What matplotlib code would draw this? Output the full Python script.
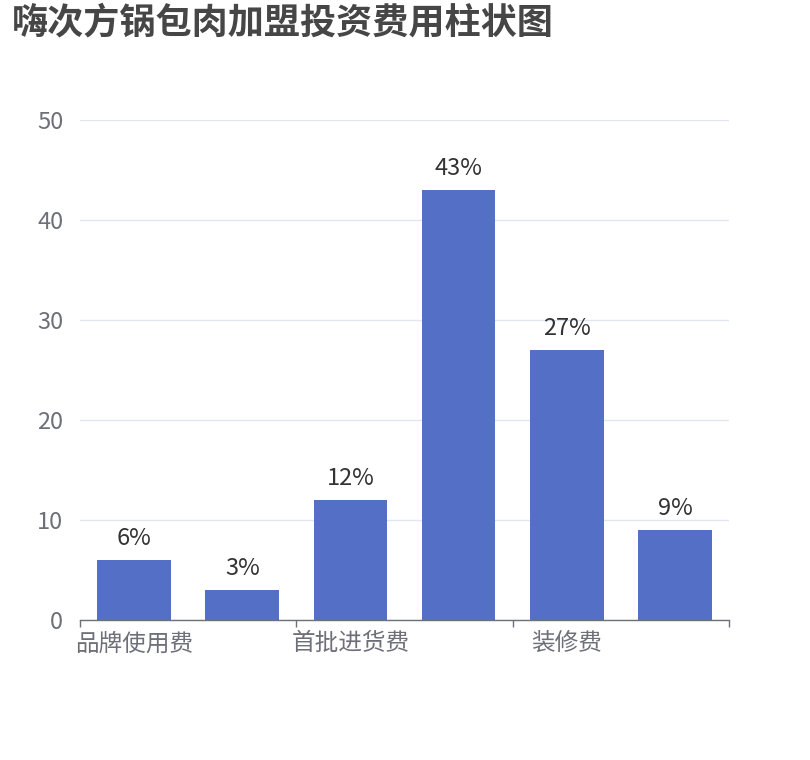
import numpy as np
import matplotlib
matplotlib.use("Agg")
import matplotlib.pyplot as plt

plt.rcParams['font.family'] = ['Noto Sans CJK SC', 'DejaVu Sans']

# 数据（第2、4、6个类目名称在原图中被隐藏，无法读出，留空）
title = "嗨次方锅包肉加盟投资费用柱状图"
categories = ["品牌使用费", "", "首批进货费", "", "装修费", ""]
values = [6, 3, 12, 43, 27, 9]
labels = ["6%", "3%", "12%", "43%", "27%", "9%"]
yticks = [0, 10, 20, 30, 40, 50]

fig = plt.figure(figsize=(8.1, 7.6), dpi=100)
ax = fig.add_axes([80 / 810, 140 / 760, 649 / 810, 500 / 760])

x = np.arange(len(categories))
ax.bar(x, values, width=0.68, color="#5470C6", zorder=3)

for xi, v, lab in zip(x, values, labels):
    ax.annotate(lab, (xi, v), xytext=(0, 7), textcoords="offset points",
                ha="center", va="bottom", fontsize=17, color="#333333")

ax.set_xlim(-0.5, len(categories) - 0.5)
ax.set_ylim(0, 50)
ax.set_yticks(yticks)
ax.set_yticklabels([str(t) for t in yticks])
ax.grid(axis="y", color="#E0E6F1", linewidth=1, zorder=0)

# x轴只显示隔一个的标签
ax.set_xticks(x[::2])
ax.set_xticklabels(categories[::2])
ax.set_xticks(np.arange(-0.5, len(categories), 2), minor=True)
ax.tick_params(axis="x", which="major", length=0, pad=9, labelsize=17, labelcolor="#6E7079")
ax.tick_params(axis="x", which="minor", length=5, width=1, color="#6E7079", direction="out")
ax.tick_params(axis="y", length=0, pad=12, labelsize=17, labelcolor="#6E7079")

for s in ["top", "right", "left"]:
    ax.spines[s].set_visible(False)
ax.spines["bottom"].set_color("#6E7079")
ax.spines["bottom"].set_linewidth(1)
ax.spines["bottom"].set_zorder(4)

fig.text(12 / 810, 1 - 4 / 760, title, ha="left", va="top", fontsize=26,
         fontweight="bold", color="#464646")

fig.savefig("out.png", dpi=100)
